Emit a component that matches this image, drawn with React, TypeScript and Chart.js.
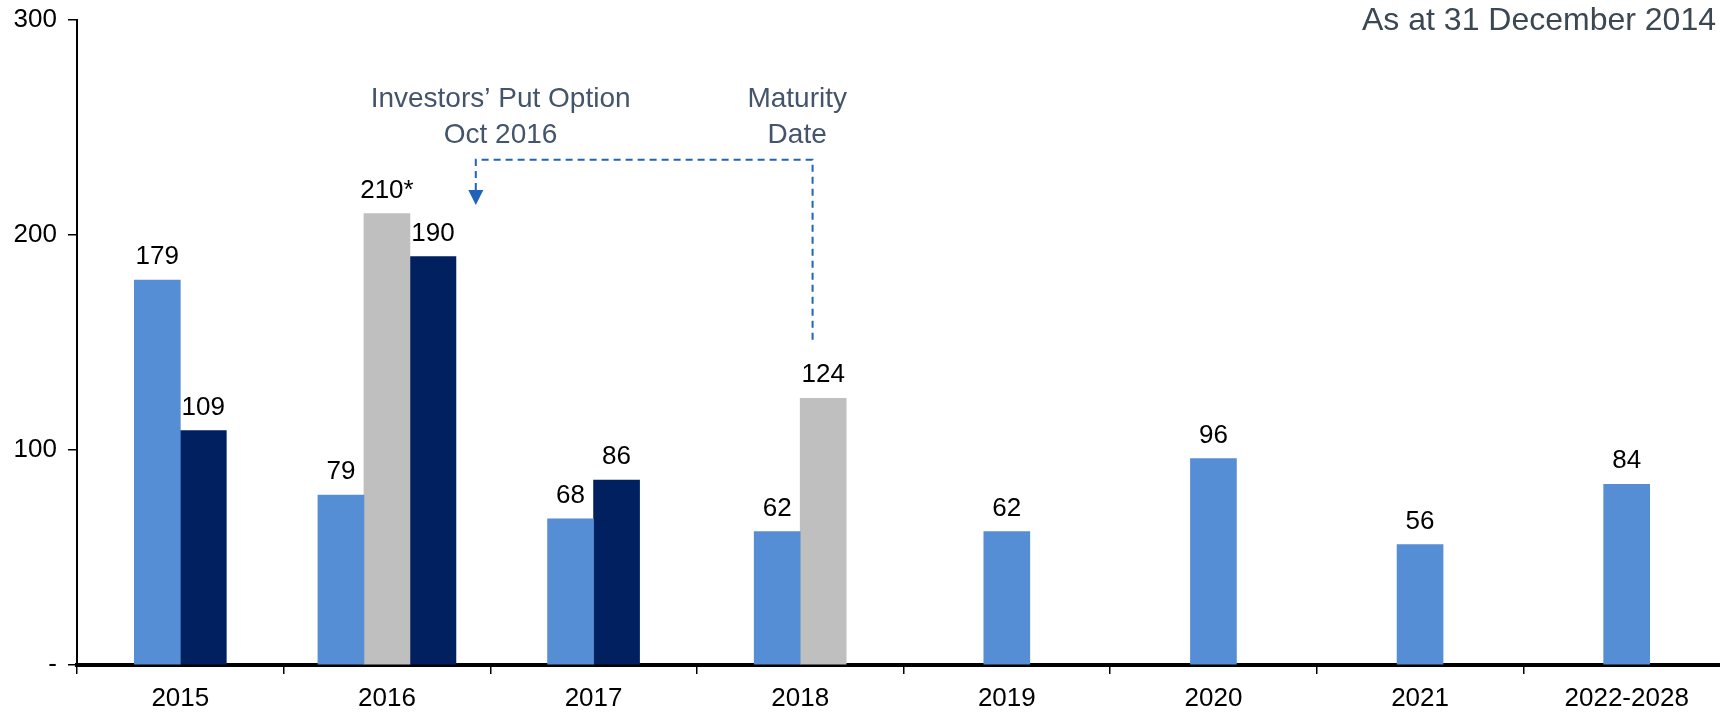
import React, { useEffect, useRef } from "react";
import { Chart, registerables } from "chart.js";

Chart.register(...registerables);

const categories = ["2015", "2016", "2017", "2018", "2019", "2020", "2021", "2022-2028"];
const lightSeries = [179, 79, 68, 62, 62, 96, 56, 84];
const graySeries = [null, 210, null, 124, null, null, null, null];
const navySeries = [109, 190, 86, null, null, null, null, null];
const grayNotes = ["", "*", "", "", "", "", "", ""];
const yTickValues = [0, 100, 200, 300];
const yTickLabels = ["-", "100", "200", "300"];
const headerText = "As at 31 December 2014";
const putOptionText = ["Investors\u2019 Put Option", "Oct 2016"];
const maturityText = ["Maturity", "Date"];

const FONT = "'Liberation Sans', Arial, Helvetica, sans-serif";
const W = 1760;
const H = 713;

const valueLabelPlugin = {
  id: "valueLabels",
  afterDatasetsDraw(chart: any) {
    const ctx = chart.ctx;
    ctx.save();
    ctx.font = `26px ${FONT}`;
    ctx.fillStyle = "#000000";
    ctx.textAlign = "center";
    ctx.textBaseline = "alphabetic";
    chart.data.datasets.forEach((ds: any, di: number) => {
      const meta = chart.getDatasetMeta(di);
      meta.data.forEach((el: any, i: number) => {
        const v = ds.data[i];
        if (v === null || v === undefined) return;
        const note = ds.notes ? ds.notes[i] : "";
        ctx.fillText(String(v) + note, el.x, el.y - 16);
      });
    });
    ctx.restore();
  },
};

const annotationPlugin = {
  id: "annotations",
  afterDraw(chart: any) {
    const ctx = chart.ctx;
    const xs = chart.scales.x;
    const ys = chart.scales.y;
    const cw = xs.getPixelForValue(1) - xs.getPixelForValue(0);
    const xl = xs.getPixelForValue(1) + cw * 0.43;
    const xr = xs.getPixelForValue(3) + cw * 0.06;
    const yh = ys.getPixelForValue(235);
    const yTip = ys.getPixelForValue(214);
    const yEnd = ys.getPixelForValue(150);
    ctx.save();
    ctx.strokeStyle = "#1F64B8";
    ctx.lineWidth = 2;
    ctx.setLineDash([7, 5]);
    ctx.beginPath();
    ctx.moveTo(xl, yTip - 15);
    ctx.lineTo(xl, yh);
    ctx.lineTo(xr, yh);
    ctx.lineTo(xr, yEnd);
    ctx.stroke();
    ctx.setLineDash([]);
    ctx.fillStyle = "#1F64B8";
    ctx.beginPath();
    ctx.moveTo(xl - 7.5, yTip - 15);
    ctx.lineTo(xl + 7.5, yTip - 15);
    ctx.lineTo(xl, yTip);
    ctx.closePath();
    ctx.fill();

    ctx.font = `28px ${FONT}`;
    ctx.fillStyle = "#44546A";
    ctx.textAlign = "center";
    ctx.textBaseline = "middle";
    const xPut = xs.getPixelForValue(1) + cw * 0.55;
    const xMat = xs.getPixelForValue(3) - 3;
    const y1 = ys.getPixelForValue(263);
    const y2 = ys.getPixelForValue(246.5);
    ctx.fillText(putOptionText[0], xPut, y1);
    ctx.fillText(putOptionText[1], xPut, y2);
    ctx.fillText(maturityText[0], xMat, y1);
    ctx.fillText(maturityText[1], xMat, y2);

    ctx.font = `32px ${FONT}`;
    ctx.fillStyle = "#3B4753";
    ctx.textAlign = "right";
    ctx.fillText(headerText, 1716, 21);
    ctx.restore();
  },
};

export default function App() {
  const ref = useRef<HTMLCanvasElement | null>(null);
  useEffect(() => {
    if (!ref.current) return;
    const chart = new Chart(ref.current, {
      type: "bar",
      data: {
        labels: categories,
        datasets: [
          { label: "A", data: lightSeries, backgroundColor: "#558ED5" } as any,
          { label: "B", data: graySeries, backgroundColor: "#BFBFBF", notes: grayNotes } as any,
          { label: "C", data: navySeries, backgroundColor: "#002060" } as any,
        ],
      },
      options: {
        responsive: false,
        animation: false,
        devicePixelRatio: 1,
        skipNull: true,
        barThickness: 46,
        layout: { padding: { left: 0, right: 30, top: 20, bottom: 0 } },
        plugins: { legend: { display: false }, tooltip: { enabled: false } },
        scales: {
          x: {
            offset: true,
            grid: {
              display: true,
              drawOnChartArea: false,
              drawTicks: true,
              tickLength: 9,
              color: "#000000",
              lineWidth: 1.5,
              offset: true,
            },
            border: { display: true, color: "#000000", width: 4 },
            ticks: {
              color: "#000000",
              font: { family: FONT, size: 26 },
              padding: 9,
              maxRotation: 0,
              autoSkip: false,
            },
            afterFit(scale: any) {
              scale.height = 48;
            },
          },
          y: {
            min: 0,
            max: 300,
            afterBuildTicks(scale: any) {
              scale.ticks = yTickValues.map((v) => ({ value: v }));
            },
            grid: {
              display: true,
              drawOnChartArea: false,
              drawTicks: true,
              tickLength: 9,
              color: "#000000",
              lineWidth: 1.5,
            },
            border: { display: true, color: "#000000", width: 2 },
            ticks: {
              color: "#000000",
              font: { family: FONT, size: 26 },
              padding: 11,
              callback: (v: any) => {
                const idx = yTickValues.indexOf(Number(v));
                return idx >= 0 ? yTickLabels[idx] : "";
              },
            },
            afterFit(scale: any) {
              scale.width = 77;
              scale.paddingTop = 0;
              scale.paddingBottom = 0;
            },
          },
        },
      } as any,
      plugins: [valueLabelPlugin, annotationPlugin],
    });
    return () => chart.destroy();
  }, []);
  return (
    <div
      style={{
        position: "absolute",
        left: 0,
        top: 0,
        width: "1720px",
        height: "713px",
        overflow: "hidden",
        background: "#ffffff",
      }}
    >
      <canvas ref={ref} width={W} height={H} style={{ display: "block", width: W + "px", height: H + "px" }} />
    </div>
  );
}
